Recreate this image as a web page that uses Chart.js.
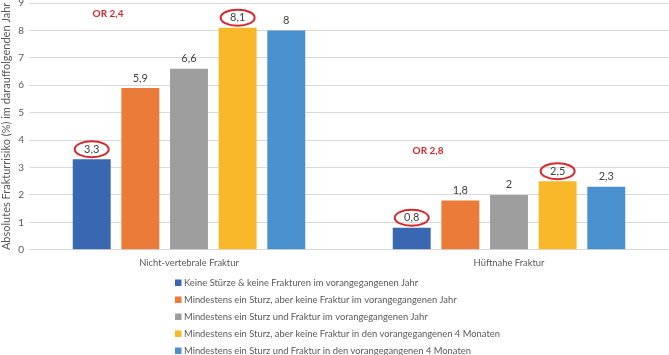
<!DOCTYPE html>
<html>
<head>
<meta charset="utf-8">
<script src="https://cdn.jsdelivr.net/npm/chart.js@4.4.0/dist/chart.umd.min.js"></script>
<style>
  html, body { margin: 0; padding: 0; background: #fff; }
  #wrap { width: 669px; height: 355px; }
</style>
</head>
<body>
<div id="wrap"><canvas id="chart"></canvas></div>
<script>
const categories = ['Nicht-vertebrale Fraktur', 'Hüftnahe Fraktur'];
const seriesNames = [
  'Keine Stürze & keine Frakturen im vorangegangenen Jahr',
  'Mindestens ein Sturz, aber keine Fraktur im vorangegangenen Jahr',
  'Mindestens ein Sturz und Fraktur im vorangegangenen Jahr',
  'Mindestens ein Sturz, aber keine Fraktur in den vorangegangenen 4 Monaten',
  'Mindestens ein Sturz und Fraktur in den vorangegangenen 4 Monaten'
];
const keineStuerze = [3.3, 0.8];
const sturzOhneFraktur = [5.9, 1.8];
const sturzMitFraktur = [6.6, 2.0];
const sturzOhneFraktur4M = [8.1, 2.5];
const sturzMitFraktur4M = [8.0, 2.3];
const yTicks = [0, 1, 2, 3, 4, 5, 6, 7, 8, 9];

// which bars get a red ellipse: [datasetIndex, categoryIndex]
const circled = [[0, 0], [3, 0], [0, 1], [3, 1]];
// odds ratio notes per category, placed at a value height
const orLabels = ['OR 2,4', 'OR 2,8'];
const orHeights = [8.6, 3.6];

const colors = ['#3A67B1', '#EA7B38', '#9E9E9E', '#F9B82A', '#4A90CF'];
const textColor = '#595959';
const font = 'Lato, "Liberation Sans", sans-serif';

const allSeries = [keineStuerze, sturzOhneFraktur, sturzMitFraktur, sturzOhneFraktur4M, sturzMitFraktur4M];

const fmt = v => String(v).replace('.', ',');

const labelsPlugin = {
  id: 'labels',
  afterDatasetsDraw(chart) {
    const ctx = chart.ctx;
    ctx.save();
    ctx.font = '11px ' + font;
    ctx.fillStyle = '#404040';
    ctx.textAlign = 'center';
    ctx.textBaseline = 'middle';
    chart.data.datasets.forEach((ds, i) => {
      chart.getDatasetMeta(i).data.forEach((bar, j) => {
        ctx.fillText(fmt(ds.data[j]), bar.x, bar.y - 10);
      });
    });
    // red ellipses
    ctx.strokeStyle = '#D42A2F';
    ctx.lineWidth = 2;
    circled.forEach(([i, j]) => {
      const bar = chart.getDatasetMeta(i).data[j];
      ctx.beginPath();
      ctx.ellipse(bar.x, bar.y - 10, 17, 8, 0, 0, Math.PI * 2);
      ctx.stroke();
    });
    // OR notes
    ctx.font = 'bold 10px ' + font;
    ctx.fillStyle = '#D42A2F';
    const y = chart.scales.y;
    orLabels.forEach((t, j) => {
      const b0 = chart.getDatasetMeta(0).data[j];
      const b1 = chart.getDatasetMeta(1).data[j];
      ctx.fillText(t, (b0.x + b1.x) / 2 - 8, y.getPixelForValue(orHeights[j]));
    });
    ctx.restore();
  }
};

const legendPlugin = {
  id: 'listLegend',
  afterDraw(chart) {
    const ctx = chart.ctx;
    ctx.save();
    ctx.font = '9.4px ' + font;
    ctx.textBaseline = 'middle';
    ctx.textAlign = 'left';
    chart.data.datasets.forEach((ds, i) => {
      const y = 283 + i * 17;
      ctx.fillStyle = ds.backgroundColor;
      ctx.fillRect(175, y - 3.5, 6.5, 6.5);
      ctx.fillStyle = textColor;
      ctx.fillText(ds.label, 184, y);
    });
    ctx.restore();
  }
};

new Chart(document.getElementById('chart'), {
  type: 'bar',
  data: {
    labels: categories,
    datasets: allSeries.map((d, i) => ({
      label: seriesNames[i],
      data: d,
      backgroundColor: colors[i],
      categoryPercentage: 0.76,
      barPercentage: 0.78
    }))
  },
  options: {
    responsive: true,
    maintainAspectRatio: false,
    animation: false,
    layout: { padding: { top: 3, right: 0, bottom: 78, left: 0 } },
    plugins: {
      legend: { display: false },
      tooltip: { enabled: false }
    },
    scales: {
      x: {
        grid: { display: false, drawTicks: false },
        border: { display: false },
        ticks: { color: textColor, font: { family: font, size: 9.4 }, padding: 8 }
      },
      y: {
        min: 0,
        max: 9,
        afterBuildTicks(axis) { axis.ticks = yTicks.map(v => ({ value: v })); },
        afterFit(axis) { axis.paddingTop = 0; },
        grid: { color: '#D9D9D9', drawTicks: false },
        border: { display: false },
        ticks: { color: textColor, font: { family: font, size: 10 }, padding: 5 },
        title: {
          display: true,
          text: 'Absolutes Frakturrisiko (%) im darauffolgenden Jahr',
          color: textColor,
          font: { family: font, size: 11 },
          padding: { top: 0, bottom: 0 }
        }
      }
    }
  },
  plugins: [labelsPlugin, legendPlugin]
});
</script>
</body>
</html>
